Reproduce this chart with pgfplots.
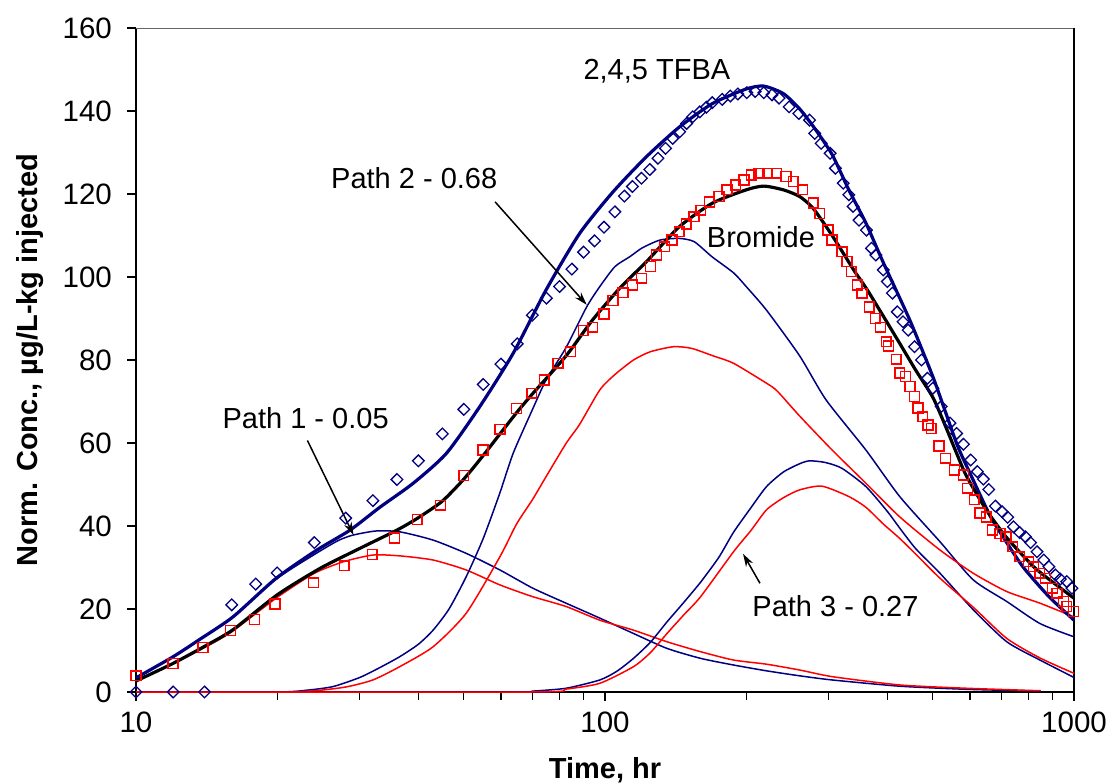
\documentclass[border=0pt]{standalone}
\usepackage{fontspec}
\setmainfont{Liberation Sans}
\usepackage{pgfplots}
\pgfplotsset{compat=1.18}
\usetikzlibrary{arrows.meta}
\definecolor{navy}{RGB}{0,0,128}
\definecolor{myred}{RGB}{255,0,0}
\begin{document}
\begin{tikzpicture}
\begin{axis}[
  scale only axis, width=938pt, height=664pt,
  xmode=log, xmin=10, xmax=1000, ymin=0, ymax=160,
  ytick={0,20,...,160},
  xtick={10,100,1000}, xticklabels={10,100,1000},
  minor xtick={20,30,40,50,60,70,80,90,200,300,400,500,600,700,800,900},
  axis x line*=bottom, axis y line*=left,
  tick align=outside,
  major tick length=9pt, minor tick length=8pt,
  every tick/.style={black, line width=1.1pt},
  axis line style={line width=2pt, black},
  font=\fontsize{29}{34}\selectfont,
  ticklabel style={font=\fontsize{29.5}{34}\selectfont, inner sep=0pt},
  /pgf/number format/assume math mode=true,
  yticklabel style={anchor=east, xshift=-15pt},
  xticklabel style={anchor=north, yshift=-11pt},
  xlabel={\bfseries Time, hr},
  ylabel={\bfseries Norm. Conc., µg/L-kg injected},
  xlabel style={at={(axis description cs:0.5,0)}, anchor=base, yshift=-87pt, inner sep=0pt},
  ylabel style={at={(axis description cs:0,0.5)}, anchor=base, yshift=99pt, inner sep=0pt},
  clip=false,
]
% top and right frame
\draw[gray!80!black, line width=0.9pt] (rel axis cs:0,1) -- (rel axis cs:1,1);
\draw[black, line width=2pt] (rel axis cs:1,0) -- (rel axis cs:1,1);

% ---- Path 1 (navy / red thin)
\addplot[navy, line width=1.5pt, smooth, tension=0.4] coordinates {
(10,3.4) (12,8.5) (13.6,12.5) (16.1,18.1) (19.9,27.2) (24.3,33.5) (27,36.5) (29,37.8)
(32.5,38.8) (36.5,38.6) (43,36.6) (50.6,33.4) (59.7,29.4) (70.2,25.0) (82.6,21.4)
(97.5,17.8) (115,14.1) (135.6,10.5) (160,8.1) (188,6.5) (221,5.1) (260,3.9) (305,2.9)
(425,1.4) (590,0.65) (850,0.2)};
\addplot[myred, line width=1.5pt, smooth, tension=0.4] coordinates {
(10,2.8) (12,6.9) (14,10.7) (16,14.5) (20,22.8) (24,28.6) (27.7,31.4) (32,33)
(36.5,32.8) (43,31.8) (50.6,29.4) (59.7,25.8) (70,23.0) (82.6,20.6) (97.5,17.3)
(115,14.9) (135.6,12.1) (160,9.7) (188,7.7) (221,6.7) (260,5.3) (305,3.7) (425,1.7)
(590,0.9) (850,0.3)};

% ---- Path 2
\addplot[navy, line width=1.5pt, smooth, tension=0.4] coordinates {
(10,0) (20,0) (23,0.4) (26.3,1.3) (30,3.5) (33,5.8) (36.5,8.5) (40,11.5) (43,14.9)
(46.5,20) (50.6,27.8) (55,37) (59.7,48) (63.7,57.5) (70,68) (74.9,75.2) (82.6,83)
(91.4,92.8) (97.5,97.7) (105,102.5) (113,104.9) (120,107) (131,108.9) (144,109.3)
(155,108.5) (169,104.9) (188,101) (200,97.7) (221,92) (260,81) (296,70.4) (360,58.3)
(425,47.1) (518,36.2) (610,27.0) (719,21.8) (846,16.5) (1000,13.3)};
\addplot[myred, line width=1.5pt, smooth, tension=0.4] coordinates {
(10,0) (20,0) (24,0.3) (28,1.2) (32,2.9) (36.5,6.1) (43,10.9) (50.6,19) (59.7,32.6)
(64.8,40.5) (70,46.3) (74.9,51.9) (82.6,59.9) (88.3,64.5) (97.5,72.8) (105,76.5)
(115,80) (125,82) (140,83.2) (153,82.8) (170,81) (188,79.2) (221,74.4) (233,72.5)
(260,66.5) (305,58.3) (360,50.3) (425,42.2) (518,34.2) (610,28.6) (719,24.2)
(846,21.4) (1000,18.1)};

% ---- Path 3
\addplot[navy, line width=1.5pt, smooth, tension=0.4] coordinates {
(10,0) (65,0) (70,0.2) (82.6,0.9) (97.5,2.9) (106,5) (115,8.1) (125,12) (135.6,16.9)
(147,21.5) (160,26.5) (175,32.5) (188,38.5) (205,44.5) (221,49.5) (240,53) (260,55)
(273,55.7) (295,55.3) (320,53.9) (360,49.5) (400,43.5) (425,39.5) (460,34.5)
(518,28.6) (610,19.8) (719,12.1) (846,7.7) (1000,3.5)};
\addplot[myred, line width=1.5pt, smooth, tension=0.4] coordinates {
(10,0) (70,0) (82.6,0.7) (97.5,2.1) (115,6.1) (125,9.5) (135.6,14.1) (147,18.5)
(160,23.0) (188,33.8) (205,39) (221,43.9) (240,46.8) (260,48.7) (290,49.6) (331,47.1)
(360,44.5) (392,40.5) (425,37) (460,33.2) (518,27.4) (610,20.4) (719,12.9) (846,8.2)
(1000,4.5)};

% ---- model fits (thick)
\addplot[navy, line width=3.2pt, smooth, tension=0.4] coordinates {
(10,3.4) (12,8.5) (13.6,12.5) (16.1,18.1) (19.9,27.4) (24.3,34.2) (28.6,39.0)
(33.1,44.5) (39,50.3) (45.9,57.5) (54.1,68.8) (63.7,81.6) (74.9,96.9) (88.3,110.5)
(104,120.5) (122.6,129) (144.3,136.2) (169.5,141.8) (200,145.3) (218,146) (240,144.2)
(260,140.5) (280,135.8) (305,129.5) (331,121) (360,113) (392,103.5) (447,89.5)
(500,76) (530,68) (566,59) (610,51) (662,42.5) (700,38) (778,30.2) (884,23)
(1000,17.3)};
\addplot[black, line width=3.2pt, smooth, tension=0.4] coordinates {
(10,2.65) (12,6.9) (14,11.0) (16.1,15) (20,23.4) (24.7,29.8) (30,34.6) (36,39.0)
(40,42) (45,46) (50,51.3) (55,57) (60,62.5) (65,67.5) (70,71.8) (82.6,81) (94,89.6)
(107.5,97.3) (122.6,103.7) (144,112.1) (169.5,117.8) (200,121) (218,121.9) (240,121)
(260,119.4) (278,116.5) (305,110) (340,101.5) (361,97.2) (390,91) (425,84) (460,77.5)
(500,71) (530,64.5) (562,57.5) (590,52) (650,43.9) (716,37.4) (820,30.2) (900,26.5)
(1000,22.6)};

% ---- TFBA data (diamonds)
\addplot[navy, only marks, mark=square, mark size=4.1pt,
  mark options={rotate=45, draw=navy, line width=1.3pt}] coordinates {
(10,0) (12,0) (14,0) (16,21) (18,26) (20,28.7) (24,36) (28,41.9) (32,46.1) (36,51.2)
(40,55.7) (45,62.2) (50,68.1) (55,74.1) (60,79) (65,83.9) (70,90.8) (75,94.9) (80,97.7)
(85,101.9) (90,106) (95,108.7) (99.5,112) (105,115.7) (110,119.5) (114.4,121.8)
(119.6,123.8) (124.6,125.9) (129.7,128.6) (134.6,131) (139.4,133.4) (144.3,135)
(149.3,137) (153.8,138.6) (159.3,139.8) (164.5,140.9) (169.3,142) (177.8,142.8)
(185,143.6) (192,144.1) (200.6,144.4) (209,144.7) (218,144.4) (227,143.9) (235,143.1)
(247,141) (259,139.4) (273,137.8) (280,134.6) (289,132.2) (302,129.8) (310,126.2)
(322,122.6) (331,119.8) (338,117) (348,113.7) (361,111.3) (370,106.9) (378,105.3)
(392,101.7) (400,98.9) (410,96.1) (420,91.6) (432,89.2) (443,87.2) (457,83.2) (473,80)
(487,75.6) (500,73.2) (521,68.8) (544,64.8) (562,62.3) (581,59.7) (602,55.9) (622,53.1)
(641,51.3) (658,48.8) (680,44.8) (703,43.4) (722,42.1) (743,39.8) (766,38.4) (788,37.4)
(808,36) (834,33.8) (862,31.8) (884,30.2) (913,28.2) (935,27.2) (965,26.6) (990,25)};

% ---- Bromide data (squares)
\addplot[myred, only marks, mark=square, mark size=4.9pt,
  mark options={draw=myred, line width=1.5pt}] coordinates {
(10,3.9) (12,6.9) (13.9,10.7) (15.9,14.8) (17.9,17.5) (19.8,21.2) (23.9,26.3)
(27.8,30.4) (31.9,33.1) (35.6,37.1) (39.8,41.6) (44.6,45) (50,52.2) (54.9,58.3)
(59.7,63.3) (64.8,68.3) (69.8,72) (74.2,75.2) (79.4,79.2) (84.4,82) (89.9,87.1)
(94.1,87.9) (99.5,91.1) (104,94.3) (109.3,96.2) (114.4,98.1) (119.6,99.7) (125,102.5)
(128.8,105.3) (133.9,107.3) (139,108.9) (144,110.9) (149,112.8) (154.7,114.5)
(160,116.1) (167,118.1) (175,119.4) (182,121) (190,122.2) (198,123.4) (205,124.6)
(213,125) (222,125) (232,125) (243,124.2) (252,123) (264,121) (278,117.8) (287,115.3)
(299,111.3) (305,108.9) (320,106.1) (328,103.7) (335,101.3) (345,98.1) (353,96.1)
(366,92.8) (377,90) (387,87.9) (398,84.4) (402,83.4) (418,80.2) (425,76.9) (437,76)
(447,73.6) (457,71.2) (465,68.4) (476,66.3) (488,64.3) (496,63.5) (515,59.3)
(532,56.3) (556,53.5) (581,52.3) (593,49.1) (613,46.3) (630,43.1) (650,42.2) (670,39)
(695,38.2) (716,37.4) (740,35) (766,32.6) (800,31.4) (820,30.2) (845,28.6) (870,27.4)
(900,25) (920,23.8) (950,21.8) (965,20.6) (998,19.4)};

% ---- annotations
\node[anchor=base, inner sep=0pt] at (axis cs:129,147.5) {2,4,5 TFBA};
\node[anchor=base, inner sep=0pt] at (axis cs:39.2,121.4) {Path 2 - 0.68};
\node[anchor=base, inner sep=0pt] at (axis cs:215,107.2) {Bromide};
\node[anchor=base, inner sep=0pt] at (axis cs:23.0,63.6) {Path 1 - 0.05};
\node[anchor=base, inner sep=0pt] at (axis cs:310,18.3) {Path 3 - 0.27};
\draw[black, line width=1.5pt, -{Stealth[length=13pt, width=8pt]}] (axis cs:23.2,60.6) -- (axis cs:29.1,37.8);
\draw[black, line width=1.5pt, -{Stealth[length=13pt, width=8pt]}] (axis cs:58.3,118.1) -- (axis cs:91.4,93.3);
\draw[black, line width=1.5pt, -{Stealth[length=13pt, width=8pt]}] (axis cs:214,26.2) -- (axis cs:197,33.3);
\end{axis}
\pgfresetboundingbox
\path ([xshift=-136pt,yshift=-91pt]current axis.south west) rectangle ([xshift=37pt,yshift=28pt]current axis.north east);
\end{tikzpicture}
\end{document}
